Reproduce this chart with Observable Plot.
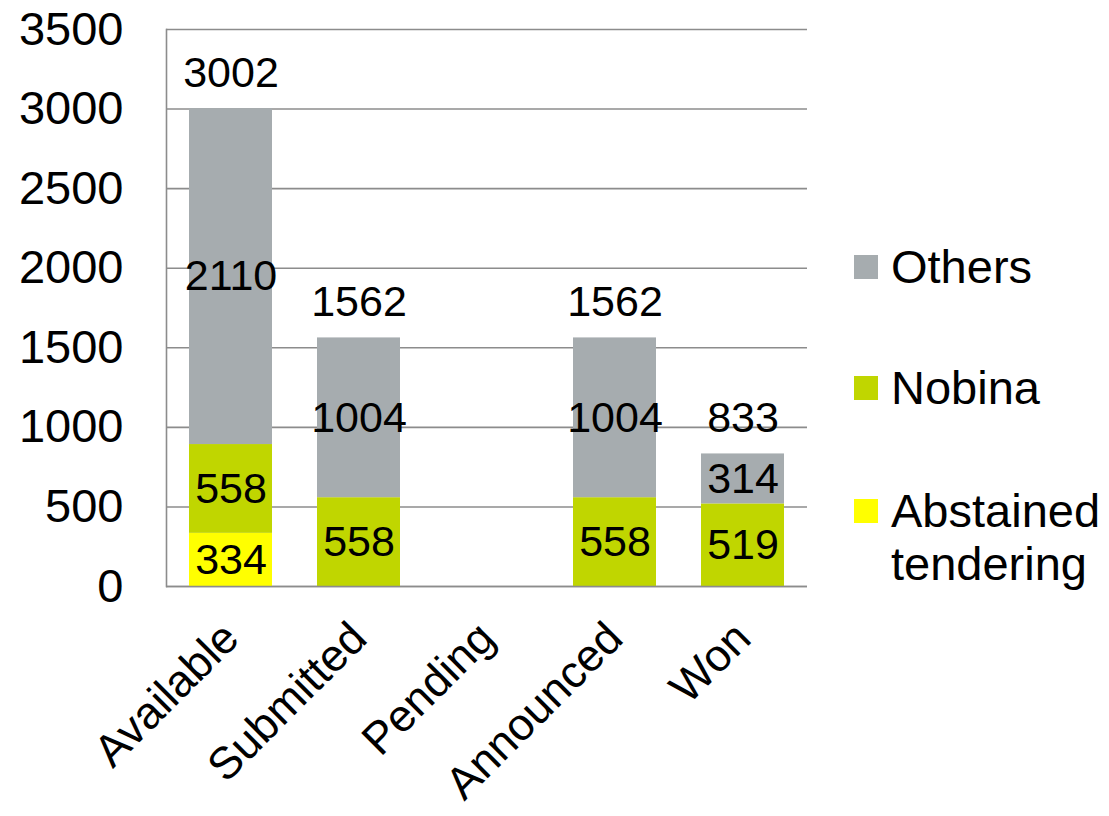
<!DOCTYPE html>
<html>
<head>
<meta charset="utf-8">
<script src="https://cdn.jsdelivr.net/npm/d3@7"></script>
<script src="https://cdn.jsdelivr.net/npm/@observablehq/plot@0.6"></script>
<style>
  html, body { margin: 0; padding: 0; background: #fff; }
  #wrap { position: relative; width: 1109px; height: 816px; font-family: "Liberation Sans", Arial, sans-serif; }
  .leg { position: absolute; left: 854px; width: 24px; height: 24px; }
  .legt { position: absolute; left: 891px; font-size: 47px; line-height: 53px; color: #000; white-space: nowrap; }
</style>
</head>
<body>
<div id="wrap"></div>
<script>
const categories = ["Available", "Submitted", "Pending", "Announced", "Won"];
const seriesNames = ["Abstained tendering", "Nobina", "Others"];
const abstained = [334, null, null, null, null];
const nobina = [558, 558, null, 558, 519];
const others = [2110, 1004, null, 1004, 314];
const totals = [3002, 1562, null, 1562, 833];
const yTicks = [0, 500, 1000, 1500, 2000, 2500, 3000, 3500];
const colors = ["#ffff00", "#c0d600", "#a6acaf"];

const seriesValues = [abstained, nobina, others];
const rows = [];
seriesNames.forEach((s, si) => {
  categories.forEach((c, ci) => {
    const v = seriesValues[si][ci];
    if (v != null) rows.push({cat: c, series: s, value: v});
  });
});
const totalRows = categories.map((c, i) => ({cat: c, total: totals[i]})).filter(d => d.total != null);

const plot = Plot.plot({
  width: 1109,
  height: 816,
  marginLeft: 166,
  marginRight: 302,
  marginTop: 29,
  marginBottom: 230,
  style: {fontFamily: "'Liberation Sans', Arial, sans-serif", fontSize: "47px", background: "white", color: "#000", overflow: "visible"},
  x: {domain: categories, paddingInner: 0.354, paddingOuter: 0.177, label: null},
  y: {domain: [0, 3500], label: null},
  color: {domain: seriesNames, range: colors},
  marks: [
    Plot.gridY(yTicks, {stroke: "#8c8c8c", strokeOpacity: 1, strokeWidth: 1.6}),
    Plot.barY(rows, {x: "cat", y: "value", fill: "series", order: seriesNames}),
    Plot.ruleY([0], {stroke: "#8c8c8c", strokeWidth: 1.6}),
    Plot.frame({anchor: "left", stroke: "#8c8c8c", strokeWidth: 1.6}),
    Plot.axisY({ticks: yTicks, tickSize: 0, tickPadding: 43, fontSize: 47, tickFormat: d => String(d), label: null}),
    Plot.axisX({tickRotate: -45, tickSize: 0, tickPadding: 44, fontSize: 45, label: null}),
    Plot.text(rows, Plot.stackY({x: "cat", y: "value", z: "series", order: seriesNames, text: d => String(d.value), fontSize: 43, fill: "#000"})),
    Plot.text(totalRows, {x: "cat", y: "total", text: d => String(d.total), dy: -36, fontSize: 43, fill: "#000"})
  ]
});
const wrap = document.getElementById("wrap");
wrap.appendChild(plot);

// Legend (order as in reference: Others, Nobina, Abstained tendering)
const legendItems = [
  {name: "Others", color: colors[2], top: 255, textTop: 240},
  {name: "Nobina", color: colors[1], top: 376, textTop: 361},
  {name: "Abstained<br>tendering", color: colors[0], top: 499, textTop: 484}
];
legendItems.forEach(it => {
  const sq = document.createElement("div");
  sq.className = "leg";
  sq.style.top = it.top + "px";
  sq.style.background = it.color;
  wrap.appendChild(sq);
  const t = document.createElement("div");
  t.className = "legt";
  t.style.top = it.textTop + "px";
  t.innerHTML = it.name;
  wrap.appendChild(t);
});
plot.style.position = "absolute";
plot.style.left = "0px";
plot.style.top = "0px";
</script>
</body>
</html>
